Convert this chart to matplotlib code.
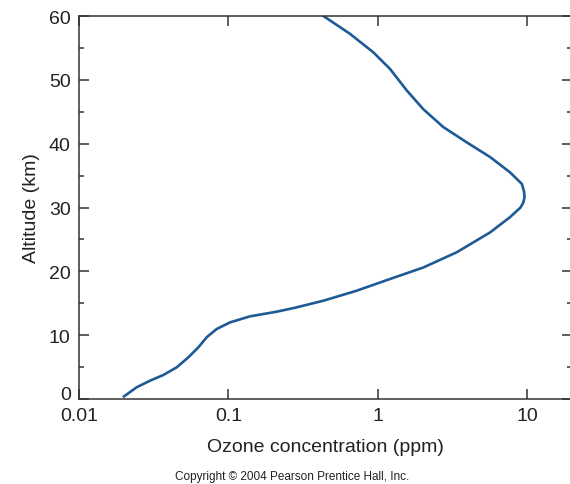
import matplotlib.pyplot as plt
from matplotlib.ticker import FixedLocator, NullLocator
from matplotlib.transforms import ScaledTranslation

# ozone profile
altitude = [0.4, 1.83, 2.87, 3.76, 4.96, 6.53, 8.1, 9.67, 10.97, 12.0, 12.95,
            13.68, 14.3, 15.4, 16.97, 18.8, 20.6, 23.0, 26.1, 28.5, 30.0, 30.8,
            31.6, 32.5, 33.7, 35.5, 37.9, 40.2, 42.6, 45.4, 48.3, 51.7, 54.3,
            57.2, 60]
ozone_ppm = [0.0200, 0.0243, 0.0299, 0.0367, 0.0451, 0.0540, 0.0630, 0.0716,
             0.0836, 0.1026, 0.1397, 0.211, 0.28, 0.433, 0.724, 1.21, 2.02, 3.39,
             5.66, 7.7, 9.05, 9.45, 9.62, 9.55, 9.23, 7.7, 5.66, 3.95, 2.75, 2.02,
             1.57, 1.21, 0.936, 0.653, 0.433]
x_ticks = [0.01, 0.1, 1, 10]
x_tick_labels = ["0.01", "0.1", "1", "10"]
y_ticks = [0, 10, 20, 30, 40, 50, 60]

plt.rcParams['font.family'] = ['Liberation Sans', 'DejaVu Sans']

fig = plt.figure(figsize=(5.7, 4.85), dpi=100)
ax = fig.add_axes([79 / 570, 85 / 485, 493 / 570, 383 / 485])

ax.plot(ozone_ppm, altitude, color='#1d5a96', lw=1.9, solid_joinstyle='round')

ax.set_xscale('log')
ax.set_xlim(0.01, 20)
ax.set_ylim(0, 60)

ax.xaxis.set_major_locator(FixedLocator(x_ticks))
ax.xaxis.set_minor_locator(NullLocator())
ax.set_xticklabels(x_tick_labels)
ax.set_yticks(y_ticks)
ax.yaxis.set_minor_locator(FixedLocator([5, 15, 25, 35, 45, 55]))

ax.tick_params(which='both', direction='in', top=True, right=True,
               color='#333333', width=1.1, labelsize=14, labelcolor='#222222')
ax.tick_params(which='major', length=7, pad=6)
ax.tick_params(which='minor', length=3.5)
for s in ax.spines.values():
    s.set_color('#333333')
    s.set_linewidth(1.1)

# the "0" label sits a bit higher so it clears "0.01"
lab0 = ax.get_yticklabels()[0]
lab0.set_transform(lab0.get_transform() + ScaledTranslation(0, 5 / 72, fig.dpi_scale_trans))

ax.set_xlabel("Ozone concentration (ppm)", fontsize=14, color='#222222', labelpad=10)
ax.set_ylabel("Altitude (km)", fontsize=14, color='#222222', labelpad=6)

fig.text(292 / 570, 8 / 485, "Copyright © 2004 Pearson Prentice Hall, Inc.",
         fontsize=8.5, ha='center', va='center', color='#222222')

fig.savefig("out.png", dpi=100)
